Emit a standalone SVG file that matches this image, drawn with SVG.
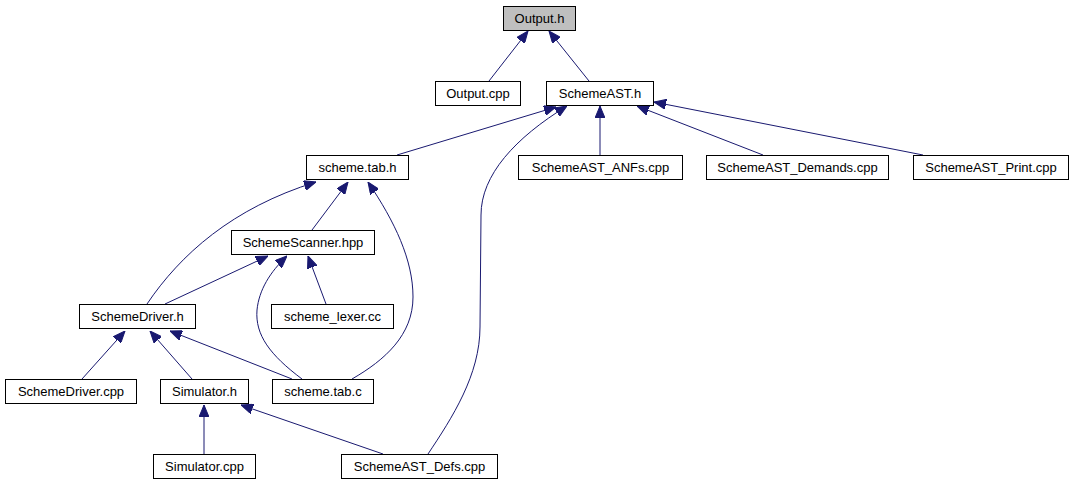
<svg xmlns="http://www.w3.org/2000/svg" width="1073" height="485" viewBox="0 0 1073 485">
<style>
.n rect{fill:#ffffff;stroke:#000000;stroke-width:1}
.n.hl rect{fill:#bfbfbf}
.n text{font-family:"Liberation Sans",Arial,sans-serif;font-size:13px;fill:#000000;text-anchor:middle}
.e path{fill:none;stroke:#191970;stroke-width:1;marker-end:url(#ah)}
</style>
<defs>
<marker id="ah" markerUnits="userSpaceOnUse" markerWidth="12" markerHeight="10" viewBox="0 0 12 10" refX="12" refY="5" orient="auto">
<path d="M0,0 L12,5 L0,10 z" fill="#191970" stroke="#191970" stroke-width="1"/>
</marker>
</defs>
<rect x="0" y="0" width="1073" height="485" fill="#ffffff"/>
<g id="edges" class="e">
<path d="M489,81 L528,31"/>
<path d="M589,81 L549,31"/>
<path d="M397,155 L556,107"/>
<path d="M428,454 C452,418 480,375 480,327 L481,215 C481,175 515,138 567,106"/>
<path d="M600,155 L600,106"/>
<path d="M763,155 L637,106"/>
<path d="M923,155 L654,102"/>
<path d="M147,304 C180,255 232,208 316,182"/>
<path d="M312,230 L348,182"/>
<path d="M352,379 C385,360 413,335 413,297 C413,260 395,222 368,182"/>
<path d="M165,304 L268,256"/>
<path d="M302,379 C270,355 255,335 257,310 C259,290 270,272 287,256"/>
<path d="M326,304 L308,256"/>
<path d="M82,379 L125,331"/>
<path d="M192,379 L150,331"/>
<path d="M292,379 L170,331"/>
<path d="M204,454 L204,405"/>
<path d="M383,454 L241,405"/>
</g>
<g id="n_output_h" class="n hl"><rect x="503.5" y="6.5" width="72" height="24"/><text x="539.5" y="23">Output.h</text></g>
<g id="n_output_cpp" class="n"><rect x="435.5" y="81.5" width="85" height="24"/><text x="478" y="98">Output.cpp</text></g>
<g id="n_schemeast_h" class="n"><rect x="546.5" y="81.5" width="107" height="24"/><text x="600" y="98">SchemeAST.h</text></g>
<g id="n_scheme_tab_h" class="n"><rect x="306.5" y="155.5" width="102" height="24"/><text x="357.5" y="172">scheme.tab.h</text></g>
<g id="n_anfs" class="n"><rect x="518.5" y="155.5" width="164" height="24"/><text x="600.5" y="172">SchemeAST_ANFs.cpp</text></g>
<g id="n_demands" class="n"><rect x="706.5" y="155.5" width="182" height="24"/><text x="797.5" y="172">SchemeAST_Demands.cpp</text></g>
<g id="n_print" class="n"><rect x="913.5" y="155.5" width="155" height="24"/><text x="991" y="172">SchemeAST_Print.cpp</text></g>
<g id="n_scanner" class="n"><rect x="231.5" y="230.5" width="143" height="24"/><text x="303" y="247">SchemeScanner.hpp</text></g>
<g id="n_driver_h" class="n"><rect x="79.5" y="304.5" width="116" height="24"/><text x="137.5" y="321">SchemeDriver.h</text></g>
<g id="n_lexer" class="n"><rect x="271.5" y="304.5" width="122" height="24"/><text x="332.5" y="321">scheme_lexer.cc</text></g>
<g id="n_driver_cpp" class="n"><rect x="5.5" y="379.5" width="131" height="24"/><text x="71" y="396">SchemeDriver.cpp</text></g>
<g id="n_sim_h" class="n"><rect x="160.5" y="379.5" width="88" height="24"/><text x="204.5" y="396">Simulator.h</text></g>
<g id="n_scheme_tab_c" class="n"><rect x="272.5" y="379.5" width="101" height="24"/><text x="323" y="396">scheme.tab.c</text></g>
<g id="n_sim_cpp" class="n"><rect x="153.5" y="454.5" width="102" height="24"/><text x="204.5" y="471">Simulator.cpp</text></g>
<g id="n_defs" class="n"><rect x="341.5" y="454.5" width="156" height="24"/><text x="419.5" y="471">SchemeAST_Defs.cpp</text></g>
</svg>
